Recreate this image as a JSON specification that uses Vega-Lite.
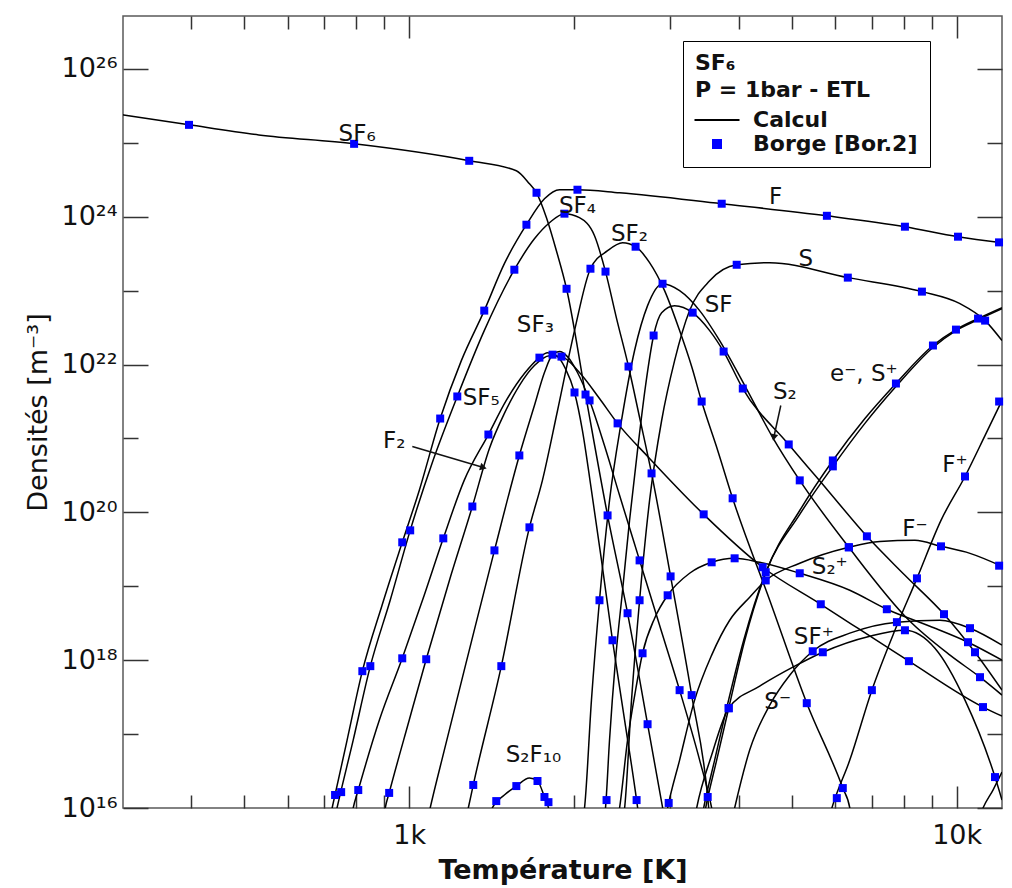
{
"$schema":"https://vega.github.io/schema/vega-lite/v6.json",
"width":879,"height":792,
"autosize":{"type":"none"},
"padding":{"left":123,"top":16,"right":10,"bottom":80},
"background":"white",
"config":{"font":"DejaVu Sans","view":{"stroke":"#5a5a5a","strokeWidth":1.5}},
"datasets":{
"curves":[
{"s":"SF6","T":300,"n":2.39e25},{"s":"SF6","T":396,"n":1.75e25},{"s":"SF6","T":531,"n":1.28e25},{"s":"SF6","T":793,"n":9.69e24},{"s":"SF6","T":1287,"n":5.71e24},{"s":"SF6","T":1569,"n":4.19e24},{"s":"SF6","T":1658,"n":2.79e24},{"s":"SF6","T":1708,"n":2.11e24},{"s":"SF6","T":1781,"n":9.7e23},{"s":"SF6","T":1857,"n":3.47e23},{"s":"SF6","T":1938,"n":1.06e23},{"s":"SF6","T":2099,"n":3.93e21},{"s":"SF6","T":2303,"n":9.1e19},{"s":"SF6","T":2505,"n":4.32e18},{"s":"SF6","T":2725,"n":1.36e17},{"s":"SF6","T":2953,"n":5.0e15},
{"s":"F","T":708,"n":5.05e15},{"s":"F","T":723,"n":1e16},{"s":"F","T":770,"n":8.3e16},{"s":"F","T":821,"n":7.1e17},{"s":"F","T":892,"n":5.54e18},{"s":"F","T":971,"n":3.93e19},{"s":"F","T":1043,"n":1.98e20},{"s":"F","T":1139,"n":1.86e21},{"s":"F","T":1245,"n":1.13e22},{"s":"F","T":1371,"n":5.37e22},{"s":"F","T":1492,"n":2.32e23},{"s":"F","T":1637,"n":7.8e23},{"s":"F","T":1766,"n":1.75e24},{"s":"F","T":1882,"n":2.32e24},{"s":"F","T":2029,"n":2.32e24},{"s":"F","T":2422,"n":2.11e24},{"s":"F","T":3722,"n":1.5e24},{"s":"F","T":5793,"n":1.03e24},{"s":"F","T":8044,"n":7.33e23},{"s":"F","T":10055,"n":5.37e23},{"s":"F","T":12100,"n":4.45e23},
{"s":"SF4","T":723,"n":5.05e15},{"s":"SF4","T":738,"n":1e16},{"s":"SF4","T":790,"n":8.3e16},{"s":"SF4","T":849,"n":8.3e17},{"s":"SF4","T":923,"n":6.47e18},{"s":"SF4","T":1004,"n":5.71e19},{"s":"SF4","T":1102,"n":4.74e20},{"s":"SF4","T":1224,"n":3.7e21},{"s":"SF4","T":1371,"n":2.88e22},{"s":"SF4","T":1556,"n":1.92e23},{"s":"SF4","T":1693,"n":5.04e23},{"s":"SF4","T":1804,"n":8.3e23},{"s":"SF4","T":1921,"n":1.1e24},{"s":"SF4","T":2046,"n":9.7e23},{"s":"SF4","T":2180,"n":5.54e23},{"s":"SF4","T":2283,"n":1.81e23},{"s":"SF4","T":2392,"n":4.19e22},{"s":"SF4","T":2515,"n":9.4e21},{"s":"SF4","T":2635,"n":1.92e21},{"s":"SF4","T":2771,"n":3.37e20},{"s":"SF4","T":3002,"n":1.36e19},{"s":"SF4","T":3280,"n":3.37e17},{"s":"SF4","T":3509,"n":1.41e16},{"s":"SF4","T":3553,"n":5.05e15},
{"s":"SF5","T":777,"n":5.05e15},{"s":"SF5","T":790,"n":1e16},{"s":"SF5","T":807,"n":1.75e16},{"s":"SF5","T":882,"n":1.55e17},{"s":"SF5","T":971,"n":1.06e18},{"s":"SF5","T":1065,"n":7.55e18},{"s":"SF5","T":1154,"n":4.45e19},{"s":"SF5","T":1260,"n":2.71e20},{"s":"SF5","T":1395,"n":1.13e21},{"s":"SF5","T":1504,"n":3.27e21},{"s":"SF5","T":1623,"n":7.55e21},{"s":"SF5","T":1729,"n":1.24e22},{"s":"SF5","T":1788,"n":1.45e22},{"s":"SF5","T":1857,"n":1.32e22},{"s":"SF5","T":1929,"n":8.83e21},{"s":"SF5","T":2004,"n":4.19e21},{"s":"SF5","T":2072,"n":1.28e21},{"s":"SF5","T":2152,"n":1.98e20},{"s":"SF5","T":2245,"n":2.24e19},{"s":"SF5","T":2351,"n":1.86e18},{"s":"SF5","T":2474,"n":1.55e17},{"s":"SF5","T":2602,"n":1.28e16},{"s":"SF5","T":2646,"n":5.05e15},
{"s":"F2","T":892,"n":5.05e15},{"s":"F2","T":904,"n":1e16},{"s":"F2","T":919,"n":1.6e16},{"s":"F2","T":1000,"n":1.55e17},{"s":"F2","T":1074,"n":1.03e18},{"s":"F2","T":1184,"n":1.2e19},{"s":"F2","T":1304,"n":1.2e20},{"s":"F2","T":1401,"n":7.33e20},{"s":"F2","T":1492,"n":2.18e21},{"s":"F2","T":1589,"n":5.2e21},{"s":"F2","T":1693,"n":9.7e21},{"s":"F2","T":1804,"n":1.32e22},{"s":"F2","T":1897,"n":1.28e22},{"s":"F2","T":2046,"n":7.8e21},{"s":"F2","T":2226,"n":3.47e21},{"s":"F2","T":2402,"n":1.6e21},{"s":"F2","T":2748,"n":5.37e20},{"s":"F2","T":3450,"n":9.4e19},{"s":"F2","T":4422,"n":1.81e19},{"s":"F2","T":5646,"n":5.71e18},{"s":"F2","T":8180,"n":9.7e17},{"s":"F2","T":11170,"n":2.32e17},{"s":"F2","T":12100,"n":1.75e17},
{"s":"SF3","T":1070,"n":5.05e15},{"s":"SF3","T":1092,"n":1e16},{"s":"SF3","T":1159,"n":6.08e16},{"s":"SF3","T":1287,"n":1.36e18},{"s":"SF3","T":1431,"n":3.06e19},{"s":"SF3","T":1589,"n":5.89e20},{"s":"SF3","T":1693,"n":2.79e21},{"s":"SF3","T":1766,"n":7.8e21},{"s":"SF3","T":1827,"n":1.36e22},{"s":"SF3","T":1882,"n":1.5e22},{"s":"SF3","T":1945,"n":1.28e22},{"s":"SF3","T":2029,"n":7.8e21},{"s":"SF3","T":2135,"n":3.27e21},{"s":"SF3","T":2273,"n":8.04e20},{"s":"SF3","T":2422,"n":1.7e20},{"s":"SF3","T":2635,"n":2.24e19},{"s":"SF3","T":2866,"n":2.97e18},{"s":"SF3","T":3118,"n":3.93e17},{"s":"SF3","T":3392,"n":4.45e16},{"s":"SF3","T":3568,"n":1e16},{"s":"SF3","T":3629,"n":5.05e15},
{"s":"SF2","T":1255,"n":5.05e15},{"s":"SF2","T":1282,"n":1e16},{"s":"SF2","T":1309,"n":2.05e16},{"s":"SF2","T":1473,"n":8.3e17},{"s":"SF2","T":1658,"n":6.27e19},{"s":"SF2","T":1751,"n":2.71e20},{"s":"SF2","T":1866,"n":2.39e21},{"s":"SF2","T":2004,"n":2.88e22},{"s":"SF2","T":2143,"n":1.98e23},{"s":"SF2","T":2303,"n":3.47e23},{"s":"SF2","T":2453,"n":4.45e23},{"s":"SF2","T":2591,"n":3.93e23},{"s":"SF2","T":2748,"n":2.39e23},{"s":"SF2","T":2927,"n":1e23},{"s":"SF2","T":3118,"n":2.88e22},{"s":"SF2","T":3280,"n":9.4e21},{"s":"SF2","T":3421,"n":3.16e21},{"s":"SF2","T":3660,"n":6.89e20},{"s":"SF2","T":3897,"n":1.55e20},{"s":"SF2","T":4555,"n":6.47e18},{"s":"SF2","T":5323,"n":2.62e17},{"s":"SF2","T":6194,"n":1.86e16},{"s":"SF2","T":6379,"n":1e16},{"s":"SF2","T":6460,"n":5.05e15},
{"s":"S2F10","T":1389,"n":5.05e15},{"s":"S2F10","T":1418,"n":1e16},{"s":"S2F10","T":1492,"n":1.5e16},{"s":"S2F10","T":1569,"n":1.98e16},{"s":"S2F10","T":1658,"n":2.54e16},{"s":"S2F10","T":1715,"n":2.32e16},{"s":"S2F10","T":1766,"n":1.41e16},{"s":"S2F10","T":1796,"n":1e16},{"s":"S2F10","T":1819,"n":5.05e15},
{"s":"SF","T":2254,"n":5.05e15},{"s":"SF","T":2283,"n":1e16},{"s":"SF","T":2322,"n":8.3e16},{"s":"SF","T":2381,"n":1e18},{"s":"SF","T":2453,"n":8.83e18},{"s":"SF","T":2526,"n":7.8e19},{"s":"SF","T":2612,"n":6.89e20},{"s":"SF","T":2702,"n":5.2e21},{"s":"SF","T":2795,"n":2.47e22},{"s":"SF","T":2891,"n":5.04e22},{"s":"SF","T":3053,"n":6.27e22},{"s":"SF","T":3294,"n":5.04e22},{"s":"SF","T":3538,"n":2.88e22},{"s":"SF","T":3752,"n":1.5e22},{"s":"SF","T":4067,"n":4.74e21},{"s":"SF","T":4934,"n":8.3e20},{"s":"SF","T":5817,"n":1.98e20},{"s":"SF","T":6855,"n":4.74e19},{"s":"SF","T":8044,"n":1.41e19},{"s":"SF","T":9480,"n":4.19e18},{"s":"SF","T":10800,"n":1.28e18},{"s":"SF","T":12100,"n":3.93e17},
{"s":"S2","T":2046,"n":5.05e15},{"s":"S2","T":2090,"n":1e16},{"s":"S2","T":2152,"n":2.88e17},{"s":"S2","T":2226,"n":6.47e18},{"s":"S2","T":2322,"n":1.45e20},{"s":"S2","T":2442,"n":1.75e21},{"s":"S2","T":2580,"n":1.55e22},{"s":"S2","T":2725,"n":6.27e22},{"s":"S2","T":2902,"n":1.24e23},{"s":"S2","T":3118,"n":1e23},{"s":"S2","T":3392,"n":5.37e22},{"s":"S2","T":3690,"n":2.11e22},{"s":"S2","T":4101,"n":5.2e21},{"s":"S2","T":4613,"n":1.03e21},{"s":"S2","T":5168,"n":2.71e20},{"s":"S2","T":6353,"n":3.37e19},{"s":"S2","T":8180,"n":3.47e18},{"s":"S2","T":9723,"n":1.17e18},{"s":"S2","T":11031,"n":5.89e17},{"s":"S2","T":12100,"n":3.37e17},
{"s":"S","T":2422,"n":5.05e15},{"s":"S","T":2474,"n":1e16},{"s":"S","T":2547,"n":2.88e17},{"s":"S","T":2635,"n":6.47e18},{"s":"S","T":2748,"n":1.45e20},{"s":"S","T":2891,"n":1.75e21},{"s":"S","T":3053,"n":1.13e22},{"s":"S","T":3252,"n":5.37e22},{"s":"S","T":3538,"n":1.36e23},{"s":"S","T":3964,"n":2.24e23},{"s":"S","T":4555,"n":2.39e23},{"s":"S","T":6326,"n":1.5e23},{"s":"S","T":8640,"n":9.7e22},{"s":"S","T":10140,"n":6.67e22},{"s":"S","T":11270,"n":3.93e22},{"s":"S","T":12100,"n":2.11e22},
{"s":"e-","T":3421,"n":5.05e15},{"s":"e-","T":3479,"n":1e16},{"s":"e-","T":3644,"n":4.45e16},{"s":"e-","T":3833,"n":2.24e17},{"s":"e-","T":4101,"n":1.86e18},{"s":"e-","T":4498,"n":1.64e19},{"s":"e-","T":5168,"n":1.06e20},{"s":"e-","T":5940,"n":5.04e20},{"s":"e-","T":6798,"n":1.86e21},{"s":"e-","T":7745,"n":5.54e21},{"s":"e-","T":9050,"n":1.81e22},{"s":"e-","T":9970,"n":2.97e22},{"s":"e-","T":10940,"n":4.19e22},{"s":"e-","T":12100,"n":5.89e22},
{"s":"S+","T":3392,"n":5.05e15},{"s":"S+","T":3450,"n":1e16},{"s":"S+","T":3613,"n":4.45e16},{"s":"S+","T":3800,"n":2.24e17},{"s":"S+","T":4083,"n":1.86e18},{"s":"S+","T":4479,"n":1.55e19},{"s":"S+","T":5168,"n":9.4e19},{"s":"S+","T":5940,"n":4.19e20},{"s":"S+","T":6798,"n":1.6e21},{"s":"S+","T":7745,"n":5.04e21},{"s":"S+","T":9050,"n":1.7e22},{"s":"S+","T":9970,"n":2.88e22},{"s":"S+","T":10940,"n":4.05e22},{"s":"S+","T":12100,"n":5.71e22},
{"s":"F+","T":5768,"n":5.05e15},{"s":"F+","T":5916,"n":1e16},{"s":"F+","T":6379,"n":4.45e16},{"s":"F+","T":7000,"n":3.93e17},{"s":"F+","T":7712,"n":2.54e18},{"s":"F+","T":8461,"n":1.28e19},{"s":"F+","T":9361,"n":7.8e19},{"s":"F+","T":10356,"n":3.06e20},{"s":"F+","T":11270,"n":1.1e21},{"s":"F+","T":12100,"n":3.27e21},
{"s":"F-","T":2915,"n":5.05e15},{"s":"F-","T":2965,"n":1e16},{"s":"F-","T":3118,"n":4.45e16},{"s":"F-","T":3321,"n":2.88e17},{"s":"F-","T":3568,"n":1.17e18},{"s":"F-","T":3849,"n":3.47e18},{"s":"F-","T":4187,"n":7.1e18},{"s":"F-","T":4479,"n":1.2e19},{"s":"F-","T":5168,"n":2.05e19},{"s":"F-","T":6353,"n":3.37e19},{"s":"F-","T":7238,"n":4.05e19},{"s":"F-","T":8389,"n":4.19e19},{"s":"F-","T":9361,"n":3.47e19},{"s":"F-","T":10576,"n":2.79e19},{"s":"F-","T":12100,"n":1.86e19},
{"s":"S2+","T":2381,"n":5.05e15},{"s":"S2+","T":2422,"n":1e16},{"s":"S2+","T":2505,"n":8.3e16},{"s":"S2+","T":2591,"n":3.93e17},{"s":"S2+","T":2668,"n":1.24e18},{"s":"S2+","T":2807,"n":3.7e18},{"s":"S2+","T":2965,"n":7.55e18},{"s":"S2+","T":3252,"n":1.5e19},{"s":"S2+","T":3568,"n":2.11e19},{"s":"S2+","T":3930,"n":2.39e19},{"s":"S2+","T":4367,"n":2.11e19},{"s":"S2+","T":5168,"n":1.5e19},{"s":"S2+","T":6379,"n":8.83e18},{"s":"S2+","T":7454,"n":4.89e18},{"s":"S2+","T":8934,"n":2.88e18},{"s":"S2+","T":10487,"n":1.75e18},{"s":"S2+","T":12100,"n":1e18},
{"s":"SF+","T":3849,"n":5.05e15},{"s":"SF+","T":3930,"n":1e16},{"s":"SF+","T":4187,"n":6.08e16},{"s":"SF+","T":4555,"n":2.47e17},{"s":"SF+","T":4955,"n":6.27e17},{"s":"SF+","T":5458,"n":1.32e18},{"s":"SF+","T":6379,"n":2.32e18},{"s":"SF+","T":7777,"n":3.27e18},{"s":"SF+","T":9322,"n":3.47e18},{"s":"SF+","T":10576,"n":2.71e18},{"s":"SF+","T":12100,"n":1.6e18},
{"s":"S-","T":3294,"n":5.05e15},{"s":"S-","T":3350,"n":1e16},{"s":"S-","T":3568,"n":5.2e16},{"s":"S-","T":3833,"n":2.24e17},{"s":"S-","T":4367,"n":4.45e17},{"s":"S-","T":5060,"n":8.3e17},{"s":"S-","T":5694,"n":1.28e18},{"s":"S-","T":6940,"n":2.11e18},{"s":"S-","T":8044,"n":2.54e18},{"s":"S-","T":9126,"n":1.45e18},{"s":"S-","T":10356,"n":2.88e17},{"s":"S-","T":11750,"n":2.62e16},{"s":"S-","T":12100,"n":1.28e16},
{"s":"S++","T":10800,"n":5.05e15},{"s":"S++","T":11170,"n":1e16},{"s":"S++","T":11650,"n":1.75e16},{"s":"S++","T":12100,"n":3.06e16}
],
"borge":[
{"s":"SF6","T":396,"n":1.75e25},{"s":"SF6","T":793,"n":9.69e24},{"s":"SF6","T":1287,"n":5.71e24},{"s":"SF6","T":1708,"n":2.11e24},{"s":"SF6","T":1938,"n":1.06e23},{"s":"SF6","T":2099,"n":3.93e21},{"s":"SF6","T":2303,"n":9.1e19},{"s":"SF6","T":2505,"n":4.32e18},{"s":"SF6","T":2725,"n":1.36e17},
{"s":"F","T":732,"n":1.5e16},{"s":"F","T":821,"n":7.1e17},{"s":"F","T":971,"n":3.93e19},{"s":"F","T":1139,"n":1.86e21},{"s":"F","T":1371,"n":5.37e22},{"s":"F","T":1637,"n":7.8e23},{"s":"F","T":2029,"n":2.32e24},{"s":"F","T":3722,"n":1.5e24},{"s":"F","T":5793,"n":1.03e24},{"s":"F","T":8044,"n":7.33e23},{"s":"F","T":10055,"n":5.37e23},{"s":"F","T":11950,"n":4.5e23},
{"s":"SF4","T":751,"n":1.64e16},{"s":"SF4","T":849,"n":8.3e17},{"s":"SF4","T":1004,"n":5.71e19},{"s":"SF4","T":1224,"n":3.7e21},{"s":"SF4","T":1556,"n":1.92e23},{"s":"SF4","T":1921,"n":1.1e24},{"s":"SF4","T":2283,"n":1.81e23},{"s":"SF4","T":2515,"n":9.4e21},{"s":"SF4","T":2771,"n":3.37e20},{"s":"SF4","T":3002,"n":1.36e19},{"s":"SF4","T":3280,"n":3.37e17},{"s":"SF4","T":3509,"n":1.41e16},
{"s":"SF5","T":807,"n":1.75e16},{"s":"SF5","T":971,"n":1.06e18},{"s":"SF5","T":1154,"n":4.45e19},{"s":"SF5","T":1395,"n":1.13e21},{"s":"SF5","T":1729,"n":1.24e22},{"s":"SF5","T":2004,"n":4.19e21},{"s":"SF5","T":2351,"n":1.86e18},{"s":"SF5","T":2602,"n":1.28e16},
{"s":"F2","T":919,"n":1.6e16},{"s":"F2","T":1074,"n":1.03e18},{"s":"F2","T":1304,"n":1.2e20},{"s":"F2","T":1897,"n":1.28e22},{"s":"F2","T":2402,"n":1.6e21},{"s":"F2","T":3450,"n":9.4e19},{"s":"F2","T":4422,"n":1.81e19},{"s":"F2","T":5646,"n":5.71e18},{"s":"F2","T":8180,"n":9.7e17},{"s":"F2","T":11170,"n":2.32e17},
{"s":"SF3","T":1431,"n":3.06e19},{"s":"SF3","T":1589,"n":5.89e20},{"s":"SF3","T":1827,"n":1.36e22},{"s":"SF3","T":2135,"n":3.27e21},{"s":"SF3","T":2635,"n":2.24e19},{"s":"SF3","T":3118,"n":3.93e17},
{"s":"SF2","T":1309,"n":2.05e16},{"s":"SF2","T":1473,"n":8.3e17},{"s":"SF2","T":1658,"n":6.27e19},{"s":"SF2","T":2143,"n":1.98e23},{"s":"SF2","T":2591,"n":3.93e23},{"s":"SF2","T":3421,"n":3.16e21},{"s":"SF2","T":3897,"n":1.55e20},{"s":"SF2","T":5323,"n":2.62e17},{"s":"SF2","T":6194,"n":1.86e16},
{"s":"S2F10","T":1442,"n":1.24e16},{"s":"S2F10","T":1569,"n":1.98e16},{"s":"S2F10","T":1715,"n":2.32e16},{"s":"S2F10","T":1766,"n":1.41e16},{"s":"S2F10","T":1796,"n":1.2e16},
{"s":"SF","T":2293,"n":1.28e16},{"s":"SF","T":2795,"n":2.47e22},{"s":"SF","T":3294,"n":5.04e22},{"s":"SF","T":3752,"n":1.5e22},{"s":"SF","T":4067,"n":4.74e21},{"s":"SF","T":4934,"n":8.3e20},{"s":"SF","T":6855,"n":4.74e19},{"s":"SF","T":9480,"n":4.19e18},{"s":"SF","T":10800,"n":1.28e18},
{"s":"S2","T":2226,"n":6.47e18},{"s":"S2","T":2902,"n":1.24e23},{"s":"S2","T":5168,"n":2.71e20},{"s":"S2","T":6353,"n":3.37e19},{"s":"S2","T":11031,"n":5.89e17},
{"s":"S","T":2635,"n":6.47e18},{"s":"S","T":3964,"n":2.24e23},{"s":"S","T":6326,"n":1.5e23},{"s":"S","T":8640,"n":9.7e22},{"s":"S","T":11270,"n":3.93e22},
{"s":"e-","T":3833,"n":2.24e17},{"s":"e-","T":5940,"n":5.04e20},{"s":"e-","T":7745,"n":5.54e21},{"s":"e-","T":9050,"n":1.81e22},{"s":"e-","T":9970,"n":2.97e22},{"s":"e-","T":10940,"n":4.19e22},
{"s":"S+","T":4479,"n":1.55e19},{"s":"S+","T":5940,"n":4.19e20},
{"s":"F+","T":6040,"n":1.36e16},{"s":"F+","T":7000,"n":3.93e17},{"s":"F+","T":8461,"n":1.28e19},{"s":"F+","T":10356,"n":3.06e20},{"s":"F+","T":11955,"n":3.16e21},
{"s":"F-","T":2978,"n":1.17e16},{"s":"F-","T":4479,"n":1.2e19},{"s":"F-","T":6353,"n":3.37e19},{"s":"F-","T":9361,"n":3.47e19},{"s":"F-","T":11955,"n":1.9e19},
{"s":"S2+","T":2668,"n":1.24e18},{"s":"S2+","T":2965,"n":7.55e18},{"s":"S2+","T":3568,"n":2.11e19},{"s":"S2+","T":3930,"n":2.39e19},{"s":"S2+","T":5168,"n":1.5e19},{"s":"S2+","T":7454,"n":4.89e18},{"s":"S2+","T":10487,"n":1.75e18},
{"s":"SF+","T":5458,"n":1.32e18},{"s":"SF+","T":7777,"n":3.27e18},{"s":"SF+","T":10576,"n":2.71e18},
{"s":"S-","T":3833,"n":2.24e17},{"s":"S-","T":5694,"n":1.28e18},{"s":"S-","T":8044,"n":2.54e18},{"s":"S-","T":11750,"n":2.62e16}
],
"labels":[
{"t":"SF₆","T":803,"n":1.32e25},{"t":"F","T":4671,"n":1.86e24},{"t":"SF₄","T":2029,"n":1.41e24},{"t":"SF₂","T":2526,"n":5.89e23},{"t":"S","T":5302,"n":2.71e23},{"t":"SF","T":3675,"n":6.47e22},{"t":"SF₃","T":1700,"n":3.47e22},{"t":"e⁻, S⁺","T":6768,"n":7.55e21},{"t":"S₂","T":4853,"n":4.19e21},{"t":"SF₅","T":1354,"n":3.58e21},{"t":"F₂","T":939,"n":9.1e20},{"t":"F⁺","T":9930,"n":4.32e20},{"t":"F⁻","T":8389,"n":5.89e19},{"t":"S₂⁺","T":5864,"n":1.81e19},{"t":"SF⁺","T":5483,"n":2.05e18},{"t":"S⁻","T":4710,"n":2.71e17},{"t":"S₂F₁₀","T":1686,"n":5.2e16}
],
"arrows":[
{"a":"F2","T":1013,"n":7.8e20,"T2":1366,"n2":4.05e20},
{"a":"S2","T":4772,"n":2.79e21,"T2":4633,"n2":1.03e21}
]
},
"resolve":{"axis":{"x":"independent","y":"independent"}},
"layer":[
{"data":{"name":"curves"},
 "mark":{"type":"line","clip":true,"strokeWidth":1.5,"interpolate":"monotone"},
 "encoding":{
  "x":{"field":"T","type":"quantitative","scale":{"type":"log","domain":[300,12100],"nice":false},
   "axis":{"orient":"bottom","values":[400,500,600,700,800,900,1000,2000,3000,4000,5000,6000,7000,8000,9000,10000],
    "labelExpr":"datum.value==1000?'1k':(datum.value==10000?'10k':'')",
    "tickSize":{"condition":{"test":"datum.value==1000||datum.value==10000","value":-22},"value":-13},
    "tickColor":"#333","tickWidth":1.5,"domain":false,"grid":false,
    "labelFontSize":27,"labelColor":"#111","labelPadding":36,"labelOverlap":false,"labelFlush":false,"labelBound":false,
    "title":"Température [K]","titleFontSize":27,"titleFontWeight":"bold","titleColor":"#111","titlePadding":0}},
  "y":{"field":"n","type":"quantitative","scale":{"type":"log","domain":[1e16,5.2e26],"nice":false},
   "axis":{"orient":"left","values":[1e16,1e17,1e18,1e19,1e20,1e21,1e22,1e23,1e24,1e25,1e26],
    "labelExpr":"datum.value==1e16?'10¹⁶':datum.value==1e18?'10¹⁸':datum.value==1e20?'10²⁰':datum.value==1e22?'10²²':datum.value==1e24?'10²⁴':datum.value==1e26?'10²⁶':''",
    "tickSize":{"condition":{"test":"datum.value==1e16||datum.value==1e18||datum.value==1e20||datum.value==1e22||datum.value==1e24||datum.value==1e26","value":-25},"value":-15},
    "tickColor":"#333","tickWidth":1.5,"domain":false,"grid":false,
    "labelFontSize":27,"labelColor":"#111","labelPadding":31,"labelOverlap":false,"labelFlush":false,"labelBound":false,
    "title":"Densités [m⁻³]","titleFontSize":27,"titleFontWeight":"normal","titleColor":"#111","titlePadding":8}},
  "detail":{"field":"s"},
  "color":{"datum":"Calcul","scale":{"domain":["Calcul","Borge [Bor.2]"],"range":["#000000","#0000ff"]},
   "legend":{"title":["SF₆","P = 1bar - ETL"],"orient":"none","legendX":560,"legendY":25,"padding":12,
    "strokeColor":"#000","fillColor":"#fff","cornerRadius":0,
    "titleFontSize":22,"titleFontWeight":"bold","titleColor":"#111","titleLineHeight":27,"titlePadding":2,
    "labelFontSize":22,"labelFontWeight":"bold","labelColor":"#111","labelOffset":20,"labelLimit":400,
    "symbolStrokeWidth":2,"symbolOffset":6,"rowPadding":2}}
 }},
{"data":{"name":"borge"},
 "mark":{"type":"point","filled":true,"opacity":1,"strokeWidth":0},
 "encoding":{
  "x":{"field":"T","type":"quantitative","scale":{"type":"log","domain":[300,12100],"nice":false},
   "axis":{"orient":"top","values":[400,500,600,700,800,900,1000,2000,3000,4000,5000,6000,7000,8000,9000,10000],"labels":false,
    "tickSize":{"condition":{"test":"datum.value==1000||datum.value==10000","value":-22},"value":-13},
    "tickColor":"#333","tickWidth":1.5,"domain":false,"grid":false,"title":null}},
  "y":{"field":"n","type":"quantitative","scale":{"type":"log","domain":[1e16,5.2e26],"nice":false},
   "axis":{"orient":"right","values":[1e16,1e17,1e18,1e19,1e20,1e21,1e22,1e23,1e24,1e25,1e26],"labels":false,
    "tickSize":{"condition":{"test":"datum.value==1e16||datum.value==1e18||datum.value==1e20||datum.value==1e22||datum.value==1e24||datum.value==1e26","value":-25},"value":-15},
    "tickColor":"#333","tickWidth":1.5,"domain":false,"grid":false,"title":null}},
  "color":{"datum":"Borge [Bor.2]"},
  "shape":{"datum":"Borge [Bor.2]","scale":{"domain":["Calcul","Borge [Bor.2]"],"range":["M-1.5,0H1.5","square"]}},
  "size":{"datum":"Borge [Bor.2]","scale":{"type":"point","padding":0,"domain":["Calcul","Borge [Bor.2]"],"range":[900,64]}}
 }},
{"data":{"name":"labels"},
 "mark":{"type":"text","fontSize":23,"color":"#111","align":"center","baseline":"middle"},
 "encoding":{
  "x":{"field":"T","type":"quantitative","scale":{"type":"log","domain":[300,12100],"nice":false},"axis":null},
  "y":{"field":"n","type":"quantitative","scale":{"type":"log","domain":[1e16,5.2e26],"nice":false},"axis":null},
  "text":{"field":"t"}
 }},
{"data":{"name":"arrows"},
 "mark":{"type":"rule","strokeWidth":1.5,"color":"#111"},
 "encoding":{
  "x":{"field":"T","type":"quantitative","scale":{"type":"log","domain":[300,12100],"nice":false},"axis":null},
  "x2":{"field":"T2"},
  "y":{"field":"n","type":"quantitative","scale":{"type":"log","domain":[1e16,5.2e26],"nice":false},"axis":null},
  "y2":{"field":"n2"}
 }},
{"data":{"name":"arrows"},
 "transform":[{"filter":"datum.a=='F2'"}],
 "mark":{"type":"point","shape":"triangle-right","filled":true,"size":60,"angle":16,"color":"#111","opacity":1},
 "encoding":{
  "x":{"field":"T2","type":"quantitative","scale":{"type":"log","domain":[300,12100],"nice":false},"axis":null},
  "y":{"field":"n2","type":"quantitative","scale":{"type":"log","domain":[1e16,5.2e26],"nice":false},"axis":null}
 }},
{"data":{"name":"arrows"},
 "transform":[{"filter":"datum.a=='S2'"}],
 "mark":{"type":"point","shape":"triangle-right","filled":true,"size":60,"angle":102,"color":"#111","opacity":1},
 "encoding":{
  "x":{"field":"T2","type":"quantitative","scale":{"type":"log","domain":[300,12100],"nice":false},"axis":null},
  "y":{"field":"n2","type":"quantitative","scale":{"type":"log","domain":[1e16,5.2e26],"nice":false},"axis":null}
 }}
]
}
